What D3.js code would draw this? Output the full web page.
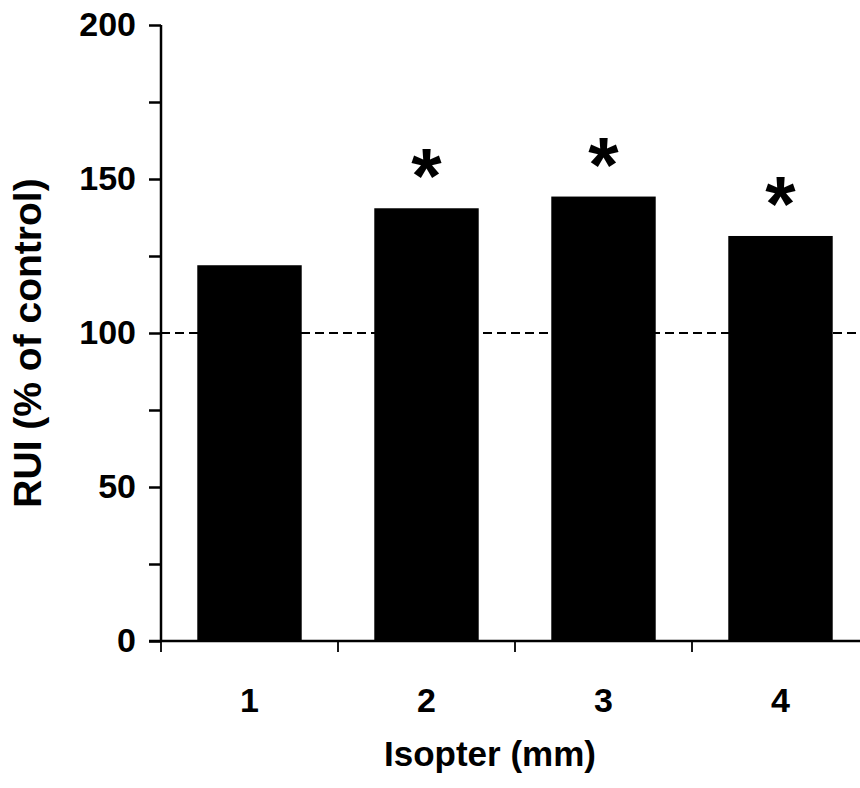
<!DOCTYPE html>
<html>
<head>
<meta charset="utf-8">
<script src="https://cdn.jsdelivr.net/npm/d3@7"></script>
<style>
  body { margin: 0; background: #fff; }
  svg { display: block; }
  text { font-family: "Liberation Sans", Arial, sans-serif; font-weight: bold; fill: #000; }
</style>
</head>
<body>
<svg id="chart" width="860" height="788"></svg>
<script>
const categories = ["1", "2", "3", "4"];
const values = [122, 140.5, 144.3, 131.5];
const significant = [false, true, true, true];
const yTickValues = [0, 50, 100, 150, 200];
const yMinorTicks = [0, 25, 50, 75, 100, 125, 150, 175, 200];
const controlLevel = 100;
const xTitle = "Isopter (mm)";
const yTitle = "RUI (% of control)";

const svg = d3.select("#chart");
const margin = { left: 161, top: 25 };
const plotW = 708, plotH = 616;
const g = svg.append("g").attr("transform", `translate(${margin.left},${margin.top})`);

const x = d3.scaleBand().domain(categories).range([0, plotW]).paddingInner(0.41).paddingOuter(0.205);
const y = d3.scaleLinear().domain([0, 200]).range([plotH, 0]);

// bars
g.selectAll("rect.bar").data(values).join("rect")
  .attr("class", "bar")
  .attr("x", (d, i) => x(categories[i]))
  .attr("width", x.bandwidth())
  .attr("y", d => y(d))
  .attr("height", d => y(0) - y(d))
  .attr("fill", "#000");

// dashed control line
g.append("line")
  .attr("x1", 0).attr("x2", 860 - margin.left)
  .attr("y1", y(controlLevel)).attr("y2", y(controlLevel))
  .attr("stroke", "#000").attr("stroke-width", 2)
  .attr("stroke-dasharray", "9,5");

// asterisks
g.selectAll("text.star").data(values.map((v, i) => ({ v, i })).filter(d => significant[d.i])).join("text")
  .attr("class", "star")
  .attr("x", d => x(categories[d.i]) + x.bandwidth() / 2)
  .attr("y", d => y(d.v) - 5)
  .attr("text-anchor", "middle")
  .attr("font-size", 78)
  .text("*");

// y axis
const yAxis = d3.axisLeft(y).tickValues(yMinorTicks).tickSize(12).tickFormat(d => yTickValues.includes(d) ? d : "");
const ya = g.append("g").call(yAxis);
ya.select(".domain").attr("d", `M0,0V${plotH}`).attr("stroke-width", 2.5);
ya.selectAll(".tick line").attr("stroke-width", 2.5);
ya.selectAll(".tick text").attr("font-size", 34).attr("x", -25)
  .style("font-family", '"Liberation Sans", Arial, sans-serif').style("font-weight", "bold");

// x axis
const xBoundaries = d3.range(0, categories.length + 1).map(i => i * x.step());
const xa = g.append("g").attr("transform", `translate(0,${plotH})`);
xa.append("line").attr("x1", -12).attr("x2", plotW).attr("y1", 0).attr("y2", 0)
  .attr("stroke", "#000").attr("stroke-width", 2.5);
xa.selectAll("line.xt").data(xBoundaries).join("line")
  .attr("class", "xt")
  .attr("x1", d => d).attr("x2", d => d).attr("y1", 0).attr("y2", 11)
  .attr("stroke", "#000").attr("stroke-width", 1.8);
xa.selectAll("text.xl").data(categories).join("text")
  .attr("class", "xl")
  .attr("x", d => x(d) + x.bandwidth() / 2)
  .attr("y", 71)
  .attr("text-anchor", "middle")
  .attr("font-size", 34)
  .text(d => d);

// axis titles
svg.append("text")
  .attr("x", 490).attr("y", 766)
  .attr("text-anchor", "middle")
  .attr("font-size", 35)
  .text(xTitle);

svg.append("text")
  .attr("transform", `translate(41,${343}) rotate(-90)`)
  .attr("text-anchor", "middle")
  .attr("font-size", 39)
  .text(yTitle);
</script>
</body>
</html>
